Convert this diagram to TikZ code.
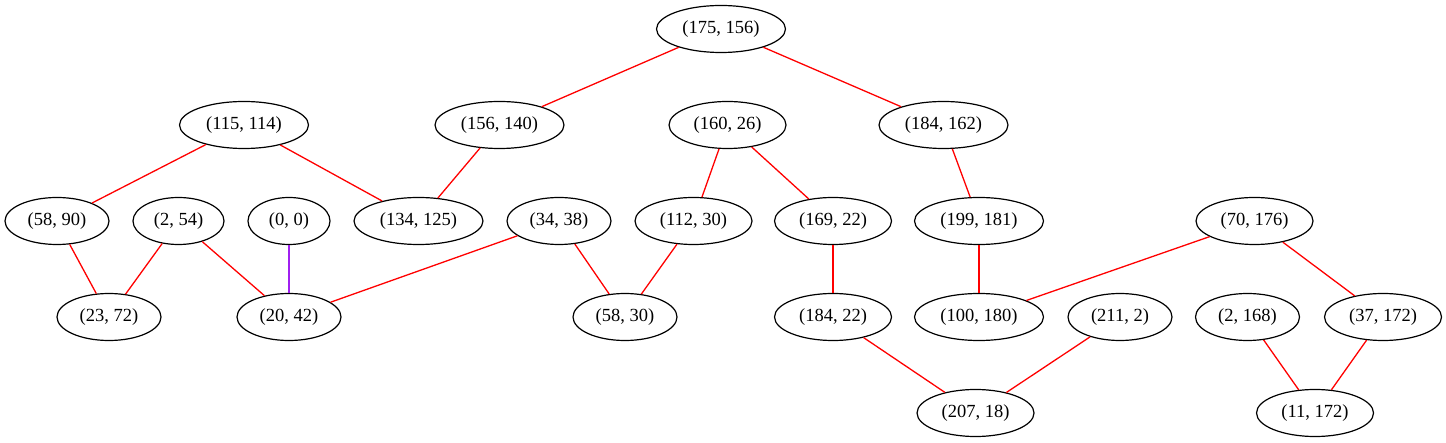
\documentclass[tikz,border=0pt]{standalone}
\usepackage{fontspec}
\setmainfont{Liberation Serif}
\usetikzlibrary{shapes.geometric}
\definecolor{edgered}{HTML}{FF0000}
\definecolor{edgepurple}{HTML}{A020F0}
\tikzset{
  x=1pt, y=-1pt,
  vtx/.style={ellipse, draw=black, line width=1.2pt, inner sep=0pt,
    minimum height=47pt, font=\fontsize{18.5}{22}\selectfont},
  wA/.style={vtx, minimum width=82pt},
  wB/.style={vtx, minimum width=91pt},
  wC/.style={vtx, minimum width=104pt},
  wD/.style={vtx, minimum width=117pt},
  wE/.style={vtx, minimum width=129pt},
  redline/.style={draw=edgered, line width=1.3pt},
  purpleline/.style={draw=edgepurple, line width=1.3pt},
}
\begin{document}
\begin{tikzpicture}
\useasboundingbox (0,0) rectangle (1446,443);
% row 1
\node[wE] (n175) at (721,29) {(175, 156)};
% row 2
\node[wE] (n115) at (244,125) {(115, 114)};
\node[wE] (n156) at (499.5,125) {(156, 140)};
\node[wD] (n160) at (727.5,125) {(160, 26)};
\node[wE] (n184a) at (943.5,125) {(184, 162)};
% row 3
\node[wC] (n58a) at (57,221) {(58, 90)};
\node[wB] (n2a) at (178.5,221) {(2, 54)};
\node[wA] (n0) at (289,221) {(0, 0)};
\node[wE] (n134) at (418.5,221) {(134, 125)};
\node[wC] (n34) at (559,221) {(34, 38)};
\node[wD] (n112) at (693.5,221) {(112, 30)};
\node[wD] (n169) at (833,221) {(169, 22)};
\node[wE] (n199) at (979,221) {(199, 181)};
\node[wD] (n70) at (1254.5,221) {(70, 176)};
% row 4
\node[wC] (n23) at (109,317) {(23, 72)};
\node[wC] (n20) at (289,317) {(20, 42)};
\node[wC] (n58b) at (625,317) {(58, 30)};
\node[wD] (n184b) at (833,317) {(184, 22)};
\node[wE] (n100) at (979,317) {(100, 180)};
\node[wC] (n211) at (1120,317) {(211, 2)};
\node[wC] (n2b) at (1247.5,317) {(2, 168)};
\node[wD] (n37) at (1383,317) {(37, 172)};
% row 5
\node[wD] (n207) at (975.5,413) {(207, 18)};
\node[wD] (n11) at (1315,413) {(11, 172)};
% connectors
\draw[redline] (n175) -- (n156);
\draw[redline] (n175) -- (n184a);
\draw[redline] (n115) -- (n58a);
\draw[redline] (n115) -- (n134);
\draw[redline] (n156) -- (n134);
\draw[redline] (n160) -- (n112);
\draw[redline] (n160) -- (n169);
\draw[redline] (n184a) -- (n199);
\draw[redline] (n58a) -- (n23);
\draw[redline] (n2a) -- (n23);
\draw[redline] (n2a) -- (n20);
\draw[purpleline] (n0) -- (n20);
\draw[redline] (n34) -- (n20);
\draw[redline] (n34) -- (n58b);
\draw[redline] (n112) -- (n58b);
\draw[redline] (n169) -- (n184b);
\draw[redline] (n199) -- (n100);
\draw[redline] (n70) -- (n100);
\draw[redline] (n70) -- (n37);
\draw[redline] (n184b) -- (n207);
\draw[redline] (n211) -- (n207);
\draw[redline] (n2b) -- (n11);
\draw[redline] (n37) -- (n11);
\end{tikzpicture}
\end{document}
